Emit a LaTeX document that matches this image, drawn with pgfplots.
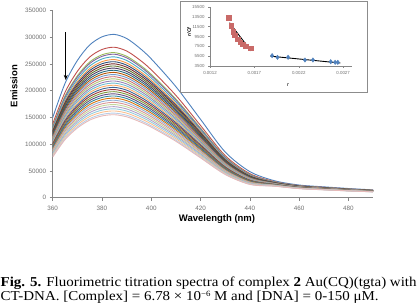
\documentclass[border=0pt]{standalone}
\usepackage{pgfplots}
\usepackage{pgfplotstable}
\usepackage{graphicx}
\pgfplotsset{compat=1.18}
\usetikzlibrary{arrows.meta}
\usepackage{fontspec}
\setmainfont{Liberation Serif}
\newfontfamily\arial{Liberation Sans}

\definecolor{axgray}{HTML}{868686}
\definecolor{labgray}{HTML}{707070}
\definecolor{framegray}{HTML}{8C8C8C}
\definecolor{col1}{HTML}{4F81BD}
\definecolor{col2}{HTML}{C0504D}
\definecolor{col3}{HTML}{9BBB59}
\definecolor{col4}{HTML}{8064A2}
\definecolor{col5}{HTML}{4BACC6}
\definecolor{col6}{HTML}{F79646}
\definecolor{col7}{HTML}{2C4D75}
\definecolor{col8}{HTML}{772C2A}
\definecolor{col9}{HTML}{5F7530}
\definecolor{col10}{HTML}{4D3B62}
\definecolor{col11}{HTML}{276A7C}
\definecolor{col12}{HTML}{B65708}
\definecolor{col13}{HTML}{729ACA}
\definecolor{col14}{HTML}{CD7371}
\definecolor{col15}{HTML}{AFC97A}
\definecolor{col16}{HTML}{9983B5}
\definecolor{col17}{HTML}{6FBDD1}
\definecolor{col18}{HTML}{F9AB6B}
\definecolor{col19}{HTML}{3A6595}
\definecolor{col20}{HTML}{9C3A38}
\definecolor{col21}{HTML}{7B9A3E}
\definecolor{col22}{HTML}{644D80}
\definecolor{col23}{HTML}{3388A0}
\definecolor{col24}{HTML}{D9740C}
\definecolor{col25}{HTML}{95B3D7}
\definecolor{col26}{HTML}{D99694}
\definecolor{col27}{HTML}{C3D69B}
\definecolor{col28}{HTML}{B2A1C7}
\definecolor{col29}{HTML}{93CDDD}
\definecolor{col30}{HTML}{FAC090}
\definecolor{col31}{HTML}{B9CDE5}
\definecolor{col32}{HTML}{E6B9B8}
\definecolor{sqred}{HTML}{C0504D}
\definecolor{dmblue}{HTML}{4F81BD}

% spectra (emission in thousands), one row per titration step
\pgfplotstableread{
name 360 365 370 375 380 385 390 395 400 410 420 430 440 450 460 470 480 490
c1 149.5 213.5 256.2 285.2 300.4 305 297.4 280.6 259.3 207.4 146.4 85.4 48.8 31.7 23.7 20.3 17.2 14.6
c2 137.7 196.7 236.0 262.7 276.8 281 274.0 258.5 238.9 191.1 134.9 78.7 45.0 30.1 22.6 19.4 16.4 14.0
c3 132.8 189.7 227.6 253.4 266.9 271 264.2 249.3 230.4 184.3 130.1 75.9 43.4 29.4 22.2 19.0 16.1 13.8
c4 131.3 187.6 225.1 250.6 264.0 268 261.3 246.6 227.8 182.2 128.6 75.0 42.9 29.2 22.1 18.9 16.0 13.7
c5 128.9 184.1 220.9 245.9 259.1 263 256.4 242.0 223.6 178.8 126.2 73.6 42.1 28.9 21.8 18.7 15.9 13.6
c6 126.4 180.6 216.7 241.2 254.1 258 251.6 237.4 219.3 175.4 123.8 72.2 41.3 28.5 21.6 18.5 15.7 13.5
c7 124.5 177.8 213.4 237.5 250.2 254 247.7 233.7 215.9 172.7 121.9 71.1 40.6 28.3 21.4 18.4 15.6 13.4
c8 122.5 175.0 210.0 233.8 246.3 250 243.8 230.0 212.5 170.0 120.0 70.0 40.0 28.0 21.3 18.3 15.5 13.3
c9 120.5 172.2 206.6 230.0 242.3 246 239.9 226.3 209.1 167.3 118.1 68.9 39.4 27.7 21.1 18.1 15.4 13.2
c10 118.6 169.4 203.3 226.3 238.4 242 236.0 222.6 205.7 164.6 116.2 67.8 38.7 27.5 20.9 18.0 15.3 13.1
c11 116.6 166.6 199.9 222.5 234.4 238 232.1 219.0 202.3 161.8 114.2 66.6 38.1 27.2 20.7 17.8 15.1 13.0
c12 114.7 163.8 196.6 218.8 230.5 234 228.2 215.3 198.9 159.1 112.3 65.5 37.4 26.9 20.5 17.7 15.0 12.9
c13 112.7 161.0 193.2 215.1 226.6 230 224.3 211.6 195.5 156.4 110.4 64.4 36.8 26.6 20.4 17.5 14.9 12.8
c14 110.7 158.2 189.8 211.3 222.6 226 220.4 207.9 192.1 153.7 108.5 63.3 36.2 26.4 20.2 17.4 14.8 12.7
c15 108.8 155.4 186.5 207.6 218.7 222 216.5 204.2 188.7 151.0 106.6 62.2 35.5 26.1 20.0 17.2 14.7 12.6
c16 106.8 152.6 183.1 203.8 214.7 218 212.6 200.6 185.3 148.2 104.6 61.0 34.9 25.8 19.8 17.1 14.5 12.5
c17 104.9 149.8 179.8 200.1 210.8 214 208.7 196.9 181.9 145.5 102.7 59.9 34.2 25.6 19.6 16.9 14.4 12.4
c18 102.9 147.0 176.4 196.4 206.9 210 204.8 193.2 178.5 142.8 100.8 58.8 33.6 25.3 19.5 16.8 14.3 12.3
c19 100.9 144.2 173.0 192.6 202.9 206 200.9 189.5 175.1 140.1 98.9 57.7 33.0 25.0 19.3 16.6 14.2 12.2
c20 99.0 141.4 169.7 188.9 199.0 202 197.0 185.8 171.7 137.4 97.0 56.6 32.3 24.7 19.1 16.5 14.1 12.1
c21 97.0 138.6 166.3 185.1 195.0 198 193.1 182.2 168.3 134.6 95.0 55.4 31.7 24.5 18.9 16.3 13.9 12.0
c22 95.1 135.8 163.0 181.4 191.1 194 189.2 178.5 164.9 131.9 93.1 54.3 31.0 24.2 18.7 16.2 13.8 11.9
c23 93.1 133.0 159.6 177.7 187.2 190 185.3 174.8 161.5 129.2 91.2 53.2 30.4 23.9 18.6 16.0 13.7 11.8
c24 91.1 130.2 156.2 173.9 183.2 186 181.4 171.1 158.1 126.5 89.3 52.1 29.8 23.6 18.4 15.9 13.6 11.7
c25 89.2 127.4 152.9 170.2 179.3 182 177.5 167.4 154.7 123.8 87.4 51.0 29.1 23.4 18.2 15.7 13.5 11.6
c26 87.2 124.6 149.5 166.4 175.3 178 173.6 163.8 151.3 121.0 85.4 49.8 28.5 23.1 18.0 15.6 13.3 11.5
c27 85.3 121.8 146.2 162.7 171.4 174 169.7 160.1 147.9 118.3 83.5 48.7 27.8 22.8 17.8 15.4 13.2 11.4
c28 83.3 119.0 142.8 159.0 167.5 170 165.8 156.4 144.5 115.6 81.6 47.6 27.2 22.6 17.7 15.3 13.1 11.3
c29 81.3 116.2 139.4 155.2 163.5 166 161.9 152.7 141.1 112.9 79.7 46.5 26.6 22.3 17.5 15.1 13.0 11.2
c30 79.4 113.4 136.1 151.5 159.6 162 158.0 149.0 137.7 110.2 77.8 45.4 25.9 22.0 17.3 15.0 12.9 11.1
c31 77.4 110.6 132.7 147.7 155.6 158 154.1 145.4 134.3 107.4 75.8 44.2 25.3 21.7 17.1 14.8 12.7 11.0
c32 76.0 108.5 130.2 144.9 152.7 155 151.1 142.6 131.8 105.4 74.4 43.4 24.8 21.5 17.0 14.7 12.7 10.9
}\rawspectra
\pgfplotstabletranspose[colnames from=name, input colnames to=l]\spectra{\rawspectra}

\pgfplotstableread{
r rcf
0.00141 13300
0.00144 11700
0.00146 10500
0.00148 9800
0.00151 8900
0.00154 8300
0.00157 7900
0.00160 7550
0.00166 7100
}\redpts

\pgfplotstableread{
r rcf
0.00190 5600
0.00196 5270
0.00208 5270
0.00227 4720
0.00236 4720
0.00256 4370
0.00261 4250
0.00264 4250
}\bluepts

\begin{document}
\begin{tikzpicture}[x=1pt,y=1pt]
\useasboundingbox (0,0) rectangle (420,303);

\begin{axis}[
  at={(52.7pt,105.3pt)}, anchor=south west,
  scale only axis, width=320.3pt, height=187.4pt,
  xmin=360, xmax=490, ymin=0, ymax=350,
  axis lines=left,
  axis line style={-, draw=axgray, line width=0.7pt},
  tick style={draw=axgray, line width=0.6pt},
  tick align=outside, major tick length=3pt,
  xtick={360,380,...,480},
  ytick={0,50,...,350},
  yticklabels={0,50000,100000,150000,200000,250000,300000,350000},
  scaled ticks=false,
  /pgf/number format/assume math mode=true,
  tick label style={font=\arial\fontsize{6.3}{7}\selectfont, text=labgray},
  xticklabel style={yshift=-1.5pt},
  clip=true,
]
\pgfplotsinvokeforeach{1,...,32}{
  \addplot[color=col#1, line width=0.9pt, smooth, no markers] table[x=l, y=c#1] {\spectra};
}
\draw[-{Stealth[length=5pt,width=4pt]}, line width=1.1pt, black] (axis cs:365.3,309) -- (axis cs:365.3,220);
\end{axis}

\node[rotate=90, font=\arial\bfseries\fontsize{9.5}{11}\selectfont] at (14,217) {Emission};
\node[font=\arial\bfseries\fontsize{9.5}{11}\selectfont] at (217,84) {Wavelength (nm)};

\draw[draw=framegray, line width=0.8pt, fill=white] (180,211) rectangle (367,302);

\begin{axis}[
  at={(210pt,237pt)}, anchor=south west,
  scale only axis, width=142pt, height=59pt,
  xmin=0.0012, xmax=0.0028, ymin=3500, ymax=15500,
  axis lines=left,
  axis line style={-, draw=axgray, line width=0.6pt},
  tick style={draw=axgray, line width=0.5pt},
  tick align=outside, major tick length=2pt,
  xtick={0.0012,0.0017,0.0022,0.0027},
  xticklabels={0.0012,0.0017,0.0022,0.0027},
  ytick={3500,5500,7500,9500,11500,13500,15500},
  yticklabels={3500,5500,7500,9500,11500,13500,15500},
  scaled ticks=false,
  /pgf/number format/assume math mode=true,
  tick label style={font=\arial\fontsize{4.4}{5}\selectfont, text=labgray},
  clip=false,
]
\addplot[only marks, mark=square*, mark size=2.2pt, color=sqred!85!white, mark options={draw=sqred!85!white}] table[x=r, y=rcf] {\redpts};
\addplot[only marks, mark=diamond*, mark size=2.2pt, color=dmblue] table[x=r, y=rcf] {\bluepts};
\addplot[black, line width=0.9pt, no markers] coordinates {(0.00142,12300) (0.00166,6600)};
\addplot[black, line width=0.9pt, no markers] coordinates {(0.00188,5500) (0.00267,4100)};
\end{axis}

\node[rotate=90, font=\arial\bfseries\itshape\fontsize{5}{6}\selectfont] at (189,271) {r/Cf};
\node[font=\arial\itshape\fontsize{5.5}{6}\selectfont] at (288,218) {r};

\node[anchor=base west, inner sep=0pt, font=\fontsize{13.6}{14}\selectfont] at (0.5,16.7) {\scalebox{1.1}[1]{\textbf{Fig. 5.} Fluorimetric titration spectra of complex \textbf{2} Au(CQ)(tgta) with}};
\node[anchor=base west, inner sep=0pt, font=\fontsize{13.6}{14}\selectfont] at (0.5,3) {\scalebox{1.1}[1]{CT-DNA. [Complex] = 6.78 × 10\raisebox{3.6pt}{\fontsize{8}{8}\selectfont −6} M and [DNA] = 0-150 μM.}};
\end{tikzpicture}
\end{document}
